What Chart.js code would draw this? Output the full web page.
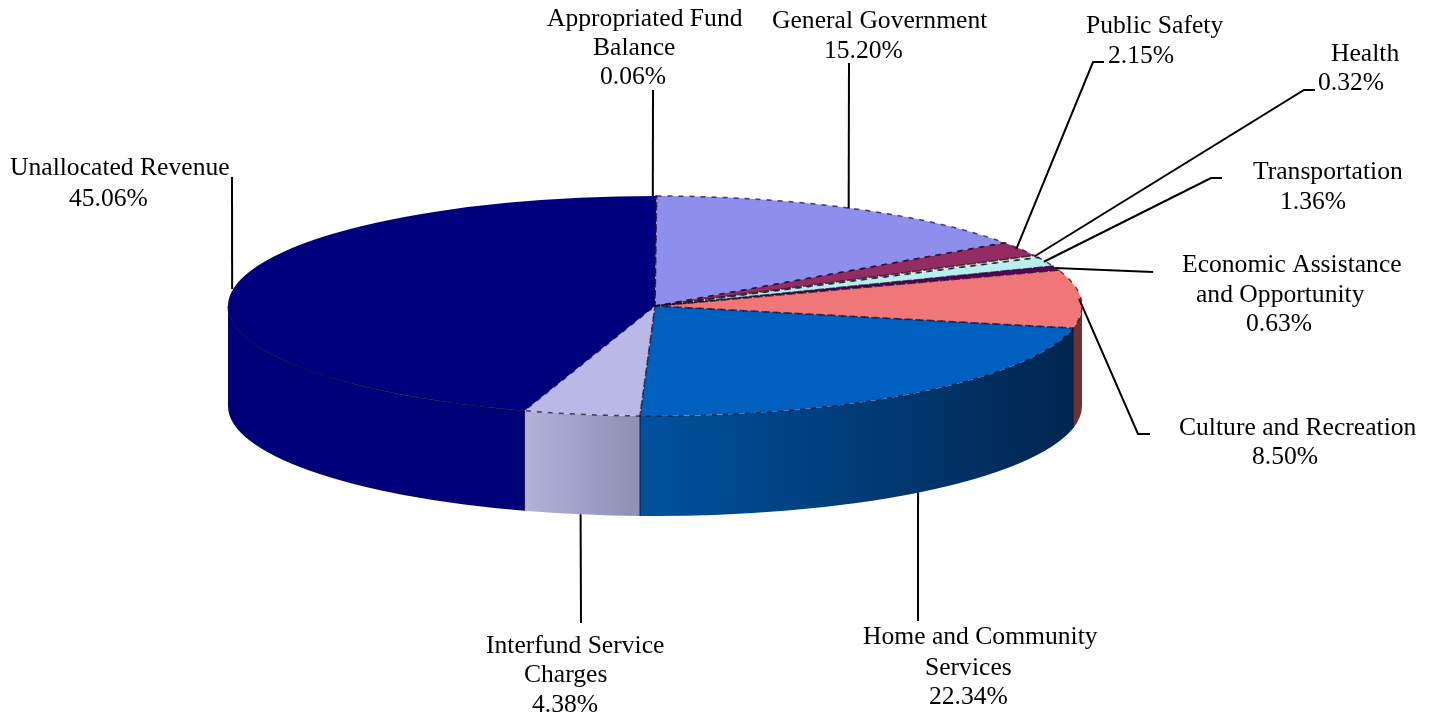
<!DOCTYPE html>
<html>
<head>
<meta charset="utf-8">
<title>Revenue pie</title>
<script src="https://cdn.jsdelivr.net/npm/chart.js@4"></script>
<style>
    html, body { margin: 0; padding: 0; background: #fff; }
    canvas { display: block; }
</style>
</head>
<body>
<canvas id="pieChart" width="1434" height="717"></canvas>
<script>
const categories = ['Appropriated Fund Balance', 'General Government', 'Public Safety', 'Health', 'Transportation',
    'Economic Assistance and Opportunity', 'Culture and Recreation', 'Home and Community Services',
    'Interfund Service Charges', 'Unallocated Revenue'];
const shares = [0.06, 15.20, 2.15, 0.32, 1.36, 0.63, 8.50, 22.34, 4.38, 45.06];
const labelLines = [
    ['Appropriated Fund', 'Balance'],
    ['General Government'],
    ['Public Safety'],
    ['Health'],
    ['Transportation'],
    ['Economic Assistance', 'and Opportunity'],
    ['Culture and Recreation'],
    ['Home and Community', 'Services'],
    ['Interfund Service', 'Charges'],
    ['Unallocated Revenue']
];

// look of the slices
const topColors = ['#000080', '#8e8eec', '#922c62', '#f6f6c8', '#b8eeee', '#5c005c', '#ef7777', '#0060bf', '#b9b9e8', '#00007e'];
const wallColors = [null, null, null, null, null, null, ['#6e3232', '#6e3232'], ['#00529f', '#00264f'], ['#b2b2da', '#8f8fb4'], ['#000078', '#000078']];

// page layout
const TILT = 110 / 427;
const RADIUS = 427;
const DEPTH = 100;
const FONT = '25.6px "Liberation Serif"';
// text is hand placed per line, the original is not evenly centred
const labelLeft = [
    [547, 593, 600],
    [772, 824],
    [1086, 1108],
    [1331, 1318],
    [1253, 1280],
    [1182, 1196, 1246],
    [1179, 1252],
    [863, 925, 929],
    [486, 524, 532],
    [10, 69]
];
const labelBase = [
    [26, 55, 84],
    [28, 58],
    [33, 63],
    [61, 90],
    [179, 209],
    [272, 302, 331],
    [435, 464],
    [644, 675, 704],
    [653, 682, 712],
    [175, 206]
];
// leaders run from the slice rim to these elbows, nudge moves the rim end sideways
const leaderEnds = [
    [[653, 90]],
    [[849, 63]],
    [[1093, 62], [1104, 62]],
    [[1304, 90], [1315, 90]],
    [[1211, 178], [1222, 178]],
    [[1153, 272]],
    [[1138, 434], [1150, 434]],
    [[918, 621]],
    [[581, 623]],
    [[232, 177]]
];
const leaderNudge = [-3, -4, -4, -2, -2, -1, -2, -1, -1, -1];

function midAngle(arc) {
    return (arc.startAngle + arc.endAngle) / 2;
}

const pie3d = {
    id: 'pie3d',
    beforeDatasetsDraw(chart) {
        const ctx = chart.ctx;
        const arcs = chart.getDatasetMeta(0).data;
        arcs.forEach((arc, i) => {
            if (!wallColors[i]) return;
            const a = Math.max(arc.startAngle, 0);
            const b = Math.min(arc.endAngle, Math.PI);
            if (b <= a) return;
            const r = arc.outerRadius;
            const x1 = arc.x + r * Math.cos(a);
            const x2 = arc.x + r * Math.cos(b);
            const grad = ctx.createLinearGradient(Math.min(x1, x2), 0, Math.max(x1, x2), 0);
            // walls are lit from the left
            grad.addColorStop(0, wallColors[i][0]);
            grad.addColorStop(1, wallColors[i][1]);
            ctx.beginPath();
            ctx.ellipse(arc.x, arc.y, r, r * TILT, 0, a, b);
            ctx.ellipse(arc.x, arc.y + DEPTH, r, r * TILT, 0, b, a, true);
            ctx.closePath();
            ctx.fillStyle = grad;
            ctx.fill();
        });
        // squash the pie into the top face
        const first = arcs[0];
        ctx.save();
        ctx.translate(first.x, first.y);
        ctx.scale(1, TILT);
        ctx.translate(-first.x, -first.y);
    },
    afterDatasetsDraw(chart) {
        const ctx = chart.ctx;
        ctx.restore();
        const arcs = chart.getDatasetMeta(0).data;

        // rough dashed outline on the slice edges
        ctx.save();
        ctx.lineWidth = 1.5;
        ctx.strokeStyle = 'rgba(25,15,45,0.75)';
        ctx.setLineDash([5, 6]);
        arcs.forEach((arc, i) => {
            if (i === arcs.length - 1) return;
            ctx.beginPath();
            ctx.moveTo(arc.x, arc.y);
            ctx.ellipse(arc.x, arc.y, arc.outerRadius, arc.outerRadius * TILT, 0, arc.startAngle, arc.endAngle);
            ctx.closePath();
            ctx.stroke();
        });
        ctx.setLineDash([]);
        // rim of the big navy slice where it meets its wall
        const last = arcs[arcs.length - 1];
        ctx.strokeStyle = 'rgba(0,0,60,0.6)';
        ctx.beginPath();
        ctx.ellipse(last.x, last.y, last.outerRadius, last.outerRadius * TILT, 0, last.startAngle, Math.PI);
        ctx.stroke();
        // seams on the front wall
        ctx.strokeStyle = 'rgba(10,10,40,0.8)';
        ctx.lineWidth = 1;
        arcs.forEach((arc) => {
            if (arc.endAngle <= 0 || arc.endAngle >= Math.PI) return;
            const x = arc.x + arc.outerRadius * Math.cos(arc.endAngle);
            const y = arc.y + arc.outerRadius * TILT * Math.sin(arc.endAngle);
            ctx.beginPath();
            ctx.moveTo(x, y);
            ctx.lineTo(x, y + DEPTH);
            ctx.stroke();
        });
        ctx.restore();

        // leader lines and labels
        ctx.save();
        ctx.strokeStyle = '#000';
        ctx.lineWidth = 2;
        arcs.forEach((arc, i) => {
            const mid = midAngle(arc);
            const front = Math.sin(mid) > 0;
            ctx.beginPath();
            ctx.moveTo(arc.x + arc.outerRadius * Math.cos(mid) + leaderNudge[i],
                arc.y + arc.outerRadius * TILT * Math.sin(mid) + (front ? DEPTH : 0));
            leaderEnds[i].forEach(p => ctx.lineTo(p[0], p[1]));
            ctx.stroke();
        });
        ctx.font = FONT;
        ctx.fillStyle = '#000';
        ctx.textAlign = 'left';
        ctx.textBaseline = 'alphabetic';
        labelLines.forEach((lines, i) => {
            const all = lines.concat(shares[i].toFixed(2) + '%');
            all.forEach((line, j) => ctx.fillText(line, labelLeft[i][j], labelBase[i][j]));
        });
        ctx.restore();
    }
};

new Chart(document.getElementById('pieChart').getContext('2d'), {
    type: 'pie',
    data: {
        labels: categories,
        datasets: [{
            data: shares,
            backgroundColor: topColors,
            borderWidth: 0,
            clip: false
        }]
    },
    options: {
        responsive: false,
        animation: false,
        events: [],
        radius: RADIUS,
        layout: { padding: { right: 124, bottom: 105 } },
        plugins: {
            legend: { display: false },
            tooltip: { enabled: false }
        }
    },
    plugins: [pie3d]
});
</script>
</body>
</html>
